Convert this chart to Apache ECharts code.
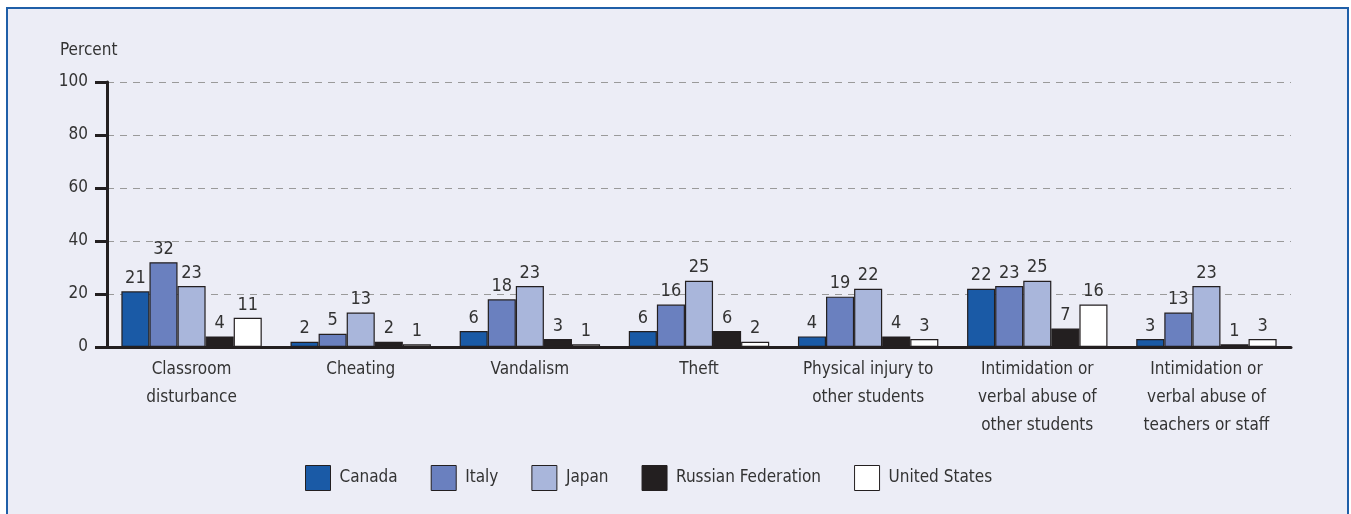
<!DOCTYPE html>
<html>
<head>
<meta charset="utf-8">
<script src="https://cdn.jsdelivr.net/npm/echarts@6/dist/echarts.min.js"></script>
<style>
    html, body { margin: 0; padding: 0; width: 1351px; height: 514px; overflow: hidden; background: #fff; }
    #frame { position: absolute; left: 6px; top: 7px; width: 1339px; height: 600px; border: 2px solid #1f5fa8; background: #ecedf6; }
    #main { position: absolute; left: 0; top: 0; width: 1351px; height: 514px; }
</style>
</head>
<body>
<div id="frame"></div>
<div id="main"></div>
<script>
// categories and values
var categories = [
    'Classroom\ndisturbance',
    'Cheating',
    'Vandalism',
    'Theft',
    'Physical injury to\nother students',
    'Intimidation or\nverbal abuse of\nother students',
    'Intimidation or\nverbal abuse of\nteachers or staff'
];
var canada = [21, 2, 6, 6, 4, 22, 3];
var italy = [32, 5, 18, 16, 19, 23, 13];
var japan = [23, 13, 23, 25, 22, 25, 23];
var russia = [4, 2, 3, 6, 4, 7, 1];
var unitedStates = [11, 1, 1, 2, 3, 16, 3];

var seriesNames = ['Canada', 'Italy', 'Japan', 'Russian Federation', 'United States'];
var seriesData = [canada, italy, japan, russia, unitedStates];
var seriesColors = ['#1a5aa6', '#6a80bf', '#a9b6db', '#231f20', '#ffffff'];

var font = '"Liberation Sans Narrow", "DejaVu Sans Condensed", sans-serif';
var ink = '#333333';
var size = 17;

var chart = echarts.init(document.getElementById('main'));

var series = [];
for (var i = 0; i < seriesNames.length; i++) {
    series.push({
        name: seriesNames[i],
        type: 'bar',
        data: seriesData[i],
        barGap: 0,
        barCategoryGap: '17%',
        itemStyle: {
            color: seriesColors[i],
            borderColor: '#231f20',
            borderWidth: 1.2
        },
        label: {
            show: true,
            position: 'top',
            distance: 4,
            fontFamily: font,
            fontSize: 18,
            color: ink
        }
    });
}

var option = {
    backgroundColor: 'transparent',
    animation: false,
    textStyle: { fontFamily: font },
    grid: {
        left: 107,
        right: 60,
        top: 82,
        bottom: 167
    },
    graphic: [{
        type: 'text',
        left: 60,
        top: 42,
        style: {
            text: 'Percent',
            fontFamily: font,
            fontSize: size,
            fill: ink
        }
    }],
    legend: {
        left: 305,
        top: 465,
        padding: 0,
        icon: 'rect',
        itemWidth: 25,
        itemHeight: 25,
        itemGap: 33,
        itemStyle: { borderColor: '#231f20', borderWidth: 1 },
        textStyle: {
            fontFamily: font,
            fontSize: size,
            color: ink,
            padding: [0, 0, 0, 4]
        },
        data: seriesNames
    },
    xAxis: {
        type: 'category',
        data: categories,
        axisLine: { lineStyle: { color: '#231f20', width: 3 } },
        axisTick: { show: false },
        axisLabel: {
            interval: 0,
            margin: 9,
            fontFamily: font,
            fontSize: size,
            lineHeight: 28,
            color: ink
        }
    },
    yAxis: {
        type: 'value',
        min: 0,
        max: 100,
        interval: 20,
        axisLine: { show: true, lineStyle: { color: '#231f20', width: 3 } },
        axisTick: { show: true, length: 12, lineStyle: { color: '#231f20', width: 3 } },
        axisLabel: {
            margin: 19,
            fontFamily: font,
            fontSize: size,
            color: ink
        },
        splitLine: {
            show: true,
            lineStyle: { color: '#9a9a9a', width: 1.2, type: [7, 6] }
        }
    },
    series: series
};

option && chart.setOption(option);
</script>
</body>
</html>
